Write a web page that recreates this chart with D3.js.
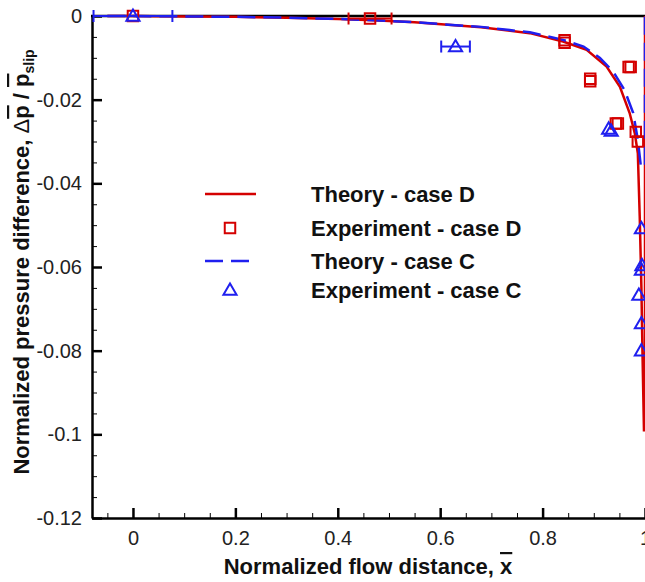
<!DOCTYPE html>
<html>
<head>
<meta charset="utf-8">
<script src="https://cdn.jsdelivr.net/npm/d3@7"></script>
<style>
  body { margin: 0; background: #fff; }
  text { font-family: "Liberation Sans", Arial, sans-serif; }
</style>
</head>
<body>
<div class="chart"></div>
<script>
// values
var theoryDx = [-0.05, 0, 0.1, 0.2, 0.3, 0.4, 0.47, 0.55, 0.68, 0.775, 0.84, 0.886, 0.925, 0.951, 0.970, 0.980, 0.986, 0.9897, 0.993, 0.995, 0.998, 1.0, 1.0];
var theoryDy = [0, 0, -0.0001, -0.0002, -0.0004, -0.0007, -0.001, -0.0015, -0.0027, -0.0041, -0.0061, -0.0081, -0.0121, -0.0169, -0.0232, -0.028, -0.0328, -0.048, -0.065, -0.08, -0.099, -0.099, 0];

var theoryCx = [-0.05, 0, 0.1, 0.2, 0.3, 0.4, 0.47, 0.55, 0.68, 0.775, 0.84, 0.88, 0.912, 0.938, 0.960, 0.977, 0.986, 0.992, 1.0, 1.0];
var theoryCy = [0, 0, -0.0001, -0.0002, -0.0004, -0.0007, -0.001, -0.0015, -0.0026, -0.0039, -0.0057, -0.0073, -0.010, -0.0133, -0.0177, -0.0232, -0.0296, -0.036, -0.036, 0];

var expDx = [0, 0.463, 0.843, 0.843, 0.893, 0.893, 0.968, 0.972, 0.943, 0.947, 0.982, 0.986];
var expDy = [0, -0.0006, -0.0058, -0.0064, -0.0150, -0.0156, -0.0122, -0.0122, -0.0257, -0.0257, -0.0277, -0.0300];
var expDerr = [0, 0.042, 0, 0, 0, 0, 0, 0, 0, 0, 0, 0];

var expCx = [0, 0.63, 0.929, 0.934, 0.993, 0.994, 0.993, 0.988, 0.993, 0.993];
var expCy = [0, -0.0073, -0.0270, -0.0275, -0.0508, -0.0596, -0.0607, -0.0667, -0.0735, -0.0800];
var expCerr = [0.077, 0.028, 0, 0, 0, 0, 0, 0, 0, 0];

var xTicks = [0, 0.2, 0.4, 0.6, 0.8, 1];
var yTicks = [0, -0.02, -0.04, -0.06, -0.08, -0.1, -0.12];

var legendLabels = ["Theory - case D", "Experiment - case D", "Theory - case C", "Experiment - case C"];

var svgWidth = 645;
var svgHeight = 582;
var red = "#d40000";
var blue = "#1f1fef";

var svg = d3.select(".chart")
  .append("svg")
  .attr("width", svgWidth)
  .attr("height", svgHeight);

var x = d3.scaleLinear().domain([-0.08, 1]).range([92, 645]);
var y = d3.scaleLinear().domain([-0.12, 0]).range([518, 16]);

var fmt = d => String(+d.toFixed(2));

// minor ticks
var xMinor = d3.range(-0.05, 1.001, 0.05).map(v => +v.toFixed(2)).filter(v => xTicks.indexOf(v) < 0);
var yMinor = d3.range(0, -0.1201, -0.005).map(v => +v.toFixed(3)).filter(v => yTicks.indexOf(v) < 0);

svg.append("g")
  .attr("transform", "translate(0,518)")
  .call(d3.axisBottom(x).tickValues(xMinor).tickSize(-5).tickFormat(""))
  .call(g => g.select(".domain").remove())
  .selectAll("line").attr("stroke", "#000").attr("stroke-width", 1);

svg.append("g")
  .attr("transform", "translate(92,0)")
  .call(d3.axisLeft(y).tickValues(yMinor).tickSize(-5).tickFormat(""))
  .call(g => g.select(".domain").remove())
  .selectAll("line").attr("stroke", "#000").attr("stroke-width", 1);

var xAxis = svg.append("g")
  .attr("transform", "translate(0,518)")
  .call(d3.axisBottom(x).tickValues(xTicks).tickSizeInner(-10).tickSizeOuter(0).tickPadding(13).tickFormat(fmt));
xAxis.select(".domain").attr("stroke-width", 2.5);
xAxis.selectAll("line").attr("stroke-width", 2.5);
xAxis.selectAll("text").attr("font-size", 20).attr("fill", "#222").attr("font-family", "Liberation Sans, Arial, sans-serif");

var yAxis = svg.append("g")
  .attr("transform", "translate(92,0)")
  .call(d3.axisLeft(y).tickValues(yTicks).tickSizeInner(-10).tickSizeOuter(0).tickPadding(10).tickFormat(fmt));
yAxis.select(".domain").attr("stroke-width", 2.5);
yAxis.selectAll("line").attr("stroke-width", 2.5);
yAxis.selectAll("text").attr("font-size", 20).attr("fill", "#222").attr("font-family", "Liberation Sans, Arial, sans-serif");

// top frame line
svg.append("line")
  .attr("x1", 91).attr("x2", 645).attr("y1", y(0)).attr("y2", y(0))
  .attr("stroke", "#000").attr("stroke-width", 2.5);

// theory curves
var line = d3.line().x(d => x(d[0])).y(d => y(d[1]));

svg.append("path")
  .datum(d3.zip(theoryDx, theoryDy))
  .attr("d", line)
  .attr("fill", "none")
  .attr("stroke", red)
  .attr("stroke-width", 2.5);

svg.append("path")
  .datum(d3.zip(theoryCx, theoryCy))
  .attr("d", line)
  .attr("fill", "none")
  .attr("stroke", blue)
  .attr("stroke-width", 2.5)
  .attr("stroke-dasharray", "18,8");

// error bars
function errorBars(xs, ys, errs, color) {
  var g = svg.append("g").attr("stroke", color).attr("stroke-width", 2).attr("fill", "none");
  xs.forEach(function(xv, i) {
    if (!errs[i]) return;
    var x0 = x(xv - errs[i]), x1 = x(xv + errs[i]), yy = y(ys[i]);
    g.append("line").attr("x1", x0).attr("x2", x1).attr("y1", yy).attr("y2", yy);
    g.append("line").attr("x1", x0).attr("x2", x0).attr("y1", yy - 6).attr("y2", yy + 6);
    g.append("line").attr("x1", x1).attr("x2", x1).attr("y1", yy - 6).attr("y2", yy + 6);
  });
}
errorBars(expDx, expDy, expDerr, red);
errorBars(expCx, expCy, expCerr, blue);

// markers
var squareSym = d3.symbol().type(d3.symbolSquare).size(110);
var triSym = d3.symbol().type(d3.symbolTriangle).size(75);

svg.append("g").selectAll("path")
  .data(d3.zip(expDx, expDy))
  .enter().append("path")
  .attr("d", squareSym)
  .attr("transform", d => `translate(${x(d[0])},${y(d[1])})`)
  .attr("fill", "none")
  .attr("stroke", red)
  .attr("stroke-width", 2);

svg.append("g").selectAll("path")
  .data(d3.zip(expCx, expCy))
  .enter().append("path")
  .attr("d", triSym)
  .attr("transform", d => `translate(${x(d[0])},${y(d[1]) + 1})`)
  .attr("fill", "none")
  .attr("stroke", blue)
  .attr("stroke-width", 2);

// legend
var legY = [194, 228, 261, 290];
var leg = svg.append("g");
leg.append("line").attr("x1", 205).attr("x2", 256).attr("y1", legY[0]).attr("y2", legY[0])
  .attr("stroke", red).attr("stroke-width", 2.5);
leg.append("path").attr("d", squareSym).attr("transform", `translate(230,${legY[1]})`)
  .attr("fill", "none").attr("stroke", red).attr("stroke-width", 2);
leg.append("line").attr("x1", 205).attr("x2", 256).attr("y1", legY[2]).attr("y2", legY[2])
  .attr("stroke", blue).attr("stroke-width", 2.5).attr("stroke-dasharray", "18,8");
leg.append("path").attr("d", triSym).attr("transform", `translate(230,${legY[3] + 1})`)
  .attr("fill", "none").attr("stroke", blue).attr("stroke-width", 2);
leg.selectAll("text.leg")
  .data(legendLabels)
  .enter().append("text")
  .attr("class", "leg")
  .attr("x", 311)
  .attr("y", (d, i) => legY[i])
  .attr("dy", "0.35em")
  .attr("font-size", 22)
  .attr("font-weight", "bold")
  .attr("fill", "#111")
  .text(d => d);

// axis titles
var xt = svg.append("text")
  .attr("x", 368)
  .attr("y", 574)
  .attr("text-anchor", "middle")
  .attr("font-size", 22)
  .attr("font-weight", "bold")
  .attr("fill", "#111");
xt.append("tspan").text("Normalized flow distance, ");
xt.append("tspan").style("text-decoration", "overline").text("x");

var yt = svg.append("text")
  .attr("transform", "translate(29,262) rotate(-90)")
  .attr("text-anchor", "middle")
  .attr("font-size", 22)
  .attr("font-weight", "bold")
  .attr("fill", "#111");
yt.append("tspan").text("Normalized pressure difference, ");
yt.append("tspan").attr("font-weight", "normal").text("\u0394");
yt.append("tspan").style("text-decoration", "overline").text("p");
yt.append("tspan").text(" / ");
yt.append("tspan").style("text-decoration", "overline").text("p");
yt.append("tspan").attr("font-size", 14).attr("dy", 5).text("slip");
</script>
</body>
</html>
